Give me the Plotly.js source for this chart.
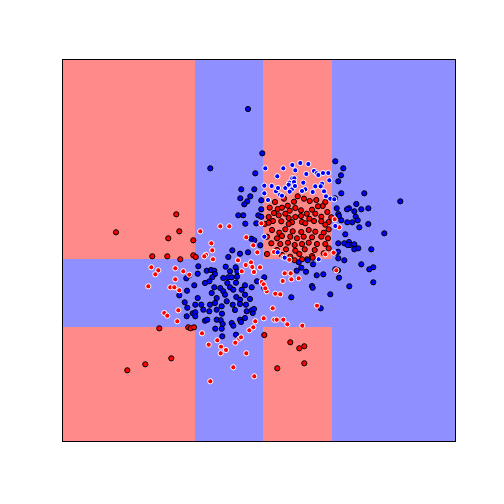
<!DOCTYPE html>
<html><head><meta charset="utf-8">
<script src="https://cdn.plot.ly/plotly-3.0.1.min.js"></script>
<style>html,body{margin:0;padding:0;background:#fff}#chart{width:504px;height:504px}</style>
</head><body><div id="chart"></div>
<script>
// Decision regions (0 = red class, 1 = blue class)
const xEdges = [0, 131.7, 200.3, 268.7, 392];
const yEdges = [0, 114.3, 181.7, 381];
const regionClass = [
  [0, 1, 0, 1],
  [1, 1, 1, 1],
  [0, 1, 0, 1]
];

// Blue class, training points
const blueTrainX = [185,199.3,147.3,192.3,272.3,280.3,278,275.3,278.3,301.3,337.3,272,293.3,286,284,291.3,298.3,305.3,273.7,275.3,276,292.7,278.3,284.3,289.3,294.7,305.3,296.3,282.3,321.3,275.3,281.3,286,287,284.7,291.3,291.3,295.3,308.3,273.7,275,275.3,281.3,298.3,310.3,306.3,286.3,310.3,126.3,123.3,116.3,131.3,178.3,191.3,187.3,177.3,184.3,181.3,198.3,198.3,175.3,180.3,195.3,198.3,182.3,193.3,188.3,191.3,197.3,169.3,177,185,165.3,135.3,143.7,148,151.3,162.7,167,172.7,174.3,134.7,152,149.3,160.3,165.3,168.7,174,146.3,142,164.3,173,151.3,157.3,160.3,167,170.3,178.7,182,188.7,194,201.3,201.3,148.7,153.7,162,134.7,173.3,177,182,187,124,235.7,244.7,250,233.7,238.3,243,272.3,275,276,253.7,260.3,249,249.7,228.3,267.3,257.7,121.7,124.3,123.7,129.7,132.3,132.3,138.3,140.3,146.3,147,152,153.7,158.7,159,163.7,169.7,172,177,183,183.7,188.7,189.7,191,132.3,142,144.3,153.7,157.7,159.7,152.3,158.7,168.7,170.3,177,178,182,173,159.3];
const blueTrainY = [332,287.7,272.7,267.7,279.7,272.7,265.7,259.7,247.7,247.7,239.7,242.7,237,232.7,231.7,229.7,231.7,232.7,232.7,227,225,224.3,220.7,218.7,218.7,220.7,217,213.7,206.7,207.7,197.7,197.7,199,196,196,196.7,191.7,192.7,191.7,188.3,189.3,182.7,180.7,176.7,173.7,171.7,154.7,158.7,165.7,162.7,145.7,155.7,251.7,251.7,244.7,242.7,239.7,236.7,240.7,231.7,225.7,225.7,225.7,224.3,217.3,217.7,202.3,200.7,195.7,190.7,187.3,188.7,184,174.7,170.3,171,170.3,174.3,169.7,173.7,169.7,167.3,167,163.7,163,163.7,163.7,164.3,159.7,158,158,158.3,153.7,153,149.7,153.7,151.3,151.3,155.7,153.7,159.7,163.7,153,148,143,146.3,143,144,141.3,146.3,142,150.3,178.7,180.7,176.7,170.3,173.3,169.3,171.7,170.7,163.3,165.7,166.7,155,153.3,143.7,146.7,132.7,138.7,133.3,124.7,127.7,128.7,136.3,136.3,131.3,129.7,136.3,138,131.3,134.7,127.3,139.7,136.3,131,137,136.3,129.7,130.7,128,132,124.7,120.3,121.3,121.3,120.7,117,112.3,112.3,118,115.3,121.3,119,123,106.3,104.7];

// Blue class, test points
const blueTestX = [202.3,220.3,229.3,237.3,245.3,232.3,243.3,251,253.7,255.3,260,265.3,214.3,229.3,231.3,226.3,231,240.3,266.3,259,201.3,201.3,201.3,208.7,213,217,215,222.3,225.7,229,232,226.7,242.3,252.3,257.7,249.7,261,263,267.3,271.3,205,219,239,214.7,272.3,221.7,255.7];
const blueTestY = [272.7,272.7,276,278,277,270.7,267,270,267.7,266,268,268,264.7,262.7,262.7,258.3,259,258.3,260.7,257.3,255.3,247.7,204.3,255,249.7,246.3,253,253,256.3,251.7,255,249.3,251.7,254.7,254.7,249,249.7,244.7,242.3,241.7,241,245.3,250,188.7,215,183.3,181.7];

// Red class, training points
const redTrainX = [113.3,53,116.3,105.3,130.3,89.3,104.3,117.3,130.3,132.7,221,212,206.7,214.7,219,224.7,231,234.7,241,246.7,253.3,262.3,259.7,255,249,243.7,238,232.3,226.7,222.3,215.7,211,205.7,210,218.3,225.7,232.3,238,246.3,252.3,258.3,264.3,268.3,265.7,258.3,251,229,239,201.7,205.7,225.7,242.3,262.3,209,216.3,222.3,229.7,238.3,245.7,252.3,260.7,265.7,204,214,219,227.3,234,240.7,249,258.3,265,208.3,217.3,225,231.7,239,245.7,254,262.3,214,223,232.3,241.7,251.7,265.7,204,219,227.3,236.3,249,260.7,231.7,239,244,249.7,96.3,125.3,127.7,131,108.3,82.3,64.3,201.3,227.3,236.3,241.3,214.3,241.3];
const redTrainY = [226.7,208.7,209.7,202.7,200.7,184.7,184.7,181.7,185.7,184,242.3,239,233.3,232,233.3,235.3,239.3,244.7,242.3,240,241,239,235,234.7,231.3,227.3,230.7,233,230.3,227.3,225.7,228,224,220,219.7,223,224,225,222.3,227.3,224.3,229,223.7,219,219.7,220,218.7,219,217,218.3,217,217.7,216.3,211,208.3,211.7,209.7,209,211,209.3,208.3,211.7,204.3,202.7,205,204.3,202.7,204.3,203.7,204.3,202.7,197.7,197,198.3,196,197,198.3,197,197,191,191.7,190.3,191.7,191,192.7,187,186,184.3,187,185,187.7,180.7,181.7,181.7,183.3,112.7,113.7,112.7,113.7,82.7,76.7,70.7,106,98.7,92.7,94.7,72.7,77.7];

// Red class, test points
const redTestX = [276.3,273.3,88.3,95.3,92.3,112.3,120.3,112.3,85.3,107.3,111.3,116.3,198.3,157.3,166.3,137.3,183.3,148.3,190.3,149.3,271.7,211,220.3,262.3,270.7,143,141.3,194.3,150,175,182.7,188,189.3,191,197,126.3,178.7,198.7,203.7,226.3,227.7,221.7,235.7,228.3,219.7,200.7,202.3,212.3,217.3,254,209.7,101.3,104.3,115.3,114.3,192.3,190.3,186.3,139,154.3,145.7,176.3,178,172.3,158,163,157.7,183.3,170.3,191.3,147.3,200.7,211.3,213.7,220.3,224.3,239.3];
const redTestY = [213.7,170.7,173.7,170.7,166.7,172.7,169.7,161.7,154.7,153.7,153.7,150.7,217.7,214.7,214.7,209.7,203.7,197.7,195.7,190.7,221.7,189,183.7,186.7,188.3,186.3,184.7,188.7,181.7,180.7,176,178.7,174,169,173.7,166.3,169.7,159,149.7,181.3,167.7,167.7,162.7,161.7,160,156.7,152.7,147.3,146.7,135.3,132.7,128,125.3,130.7,119.7,119.7,113.7,110.7,107.7,100.7,96.3,102.3,103.7,98.3,94.3,91,87.7,87.7,73.7,64.7,59.7,122.7,121.3,121.3,121.3,116.7,115.3];

const RED = '#FF0000', BLUE = '#0000FF';
function pts(x, y, color, edge) {
  return {type: 'scatter', mode: 'markers', x: x, y: y, hoverinfo: 'skip',
    marker: {color: color, size: 5.2, line: {color: edge, width: 1}}, showlegend: false};
}

const data = [
  {type: 'heatmap', x: xEdges, y: yEdges, z: regionClass, zsmooth: false,
   zmin: 0, zmax: 1, showscale: false, hoverinfo: 'skip',
   colorscale: [[0, 'rgb(255,138,138)'], [0.5, 'rgb(255,138,138)'], [0.5, 'rgb(143,143,255)'], [1, 'rgb(143,143,255)']]},
  pts(redTrainX, redTrainY, RED, '#000000'),
  pts(blueTrainX, blueTrainY, BLUE, '#000000'),
  pts(redTestX, redTestY, RED, '#FFFFFF'),
  pts(blueTestX, blueTestY, BLUE, '#FFFFFF')
];

const axisCommon = {showgrid: false, zeroline: false, showticklabels: false, ticks: '',
  showline: true, linecolor: '#000', linewidth: 1, mirror: true, fixedrange: true};
const layout = {
  width: 504, height: 504,
  margin: {l: 63, r: 49, t: 60, b: 63, pad: 0},
  paper_bgcolor: '#fff', plot_bgcolor: '#fff',
  xaxis: Object.assign({range: [0, 392]}, axisCommon),
  yaxis: Object.assign({range: [0, 381]}, axisCommon),
  showlegend: false
};
Plotly.newPlot('chart', data, layout, {staticPlot: true, displayModeBar: false});
</script>
</body></html>
